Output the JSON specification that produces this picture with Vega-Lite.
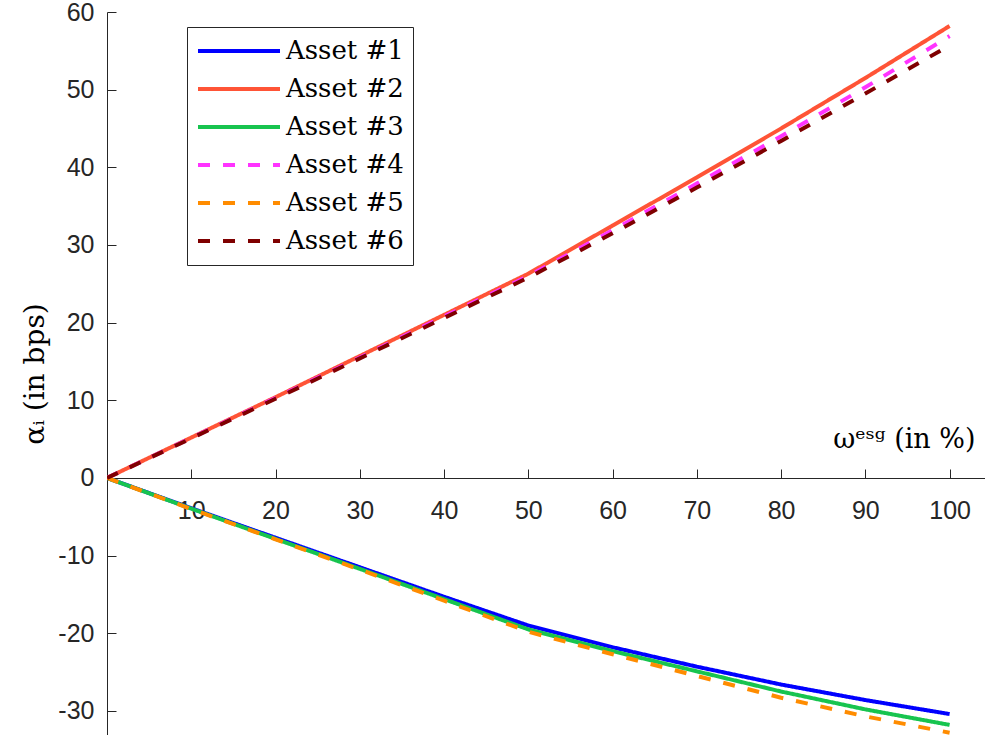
{
  "$schema": "https://vega.github.io/schema/vega-lite/v6.json",
  "width": 878,
  "height": 723,
  "autosize": {"type": "none"},
  "padding": {"left": 107, "top": 12, "right": 0, "bottom": 0},
  "background": "white",
  "config": {
    "view": {"stroke": null},
    "axis": {
      "domainColor": "#262626",
      "tickColor": "#262626",
      "labelColor": "#262626",
      "labelFont": "Liberation Sans",
      "labelFontSize": 25,
      "grid": false,
      "tickSize": -9,
      "domainWidth": 1,
      "tickWidth": 1
    }
  },
  "data": {
    "values": [
      {"x": 0, "alpha": 0, "asset": "Asset #1"},
      {"x": 10, "alpha": -3.9, "asset": "Asset #1"},
      {"x": 20, "alpha": -7.7, "asset": "Asset #1"},
      {"x": 30, "alpha": -11.5, "asset": "Asset #1"},
      {"x": 40, "alpha": -15.3, "asset": "Asset #1"},
      {"x": 50, "alpha": -19.0, "asset": "Asset #1"},
      {"x": 60, "alpha": -21.8, "asset": "Asset #1"},
      {"x": 70, "alpha": -24.3, "asset": "Asset #1"},
      {"x": 80, "alpha": -26.6, "asset": "Asset #1"},
      {"x": 90, "alpha": -28.6, "asset": "Asset #1"},
      {"x": 100, "alpha": -30.4, "asset": "Asset #1"},
      {"x": 0, "alpha": 0, "asset": "Asset #2"},
      {"x": 10, "alpha": 5.2, "asset": "Asset #2"},
      {"x": 20, "alpha": 10.4, "asset": "Asset #2"},
      {"x": 30, "alpha": 15.7, "asset": "Asset #2"},
      {"x": 40, "alpha": 21.0, "asset": "Asset #2"},
      {"x": 50, "alpha": 26.3, "asset": "Asset #2"},
      {"x": 60, "alpha": 32.5, "asset": "Asset #2"},
      {"x": 70, "alpha": 38.7, "asset": "Asset #2"},
      {"x": 80, "alpha": 45.0, "asset": "Asset #2"},
      {"x": 90, "alpha": 51.5, "asset": "Asset #2"},
      {"x": 100, "alpha": 58.2, "asset": "Asset #2"},
      {"x": 0, "alpha": 0, "asset": "Asset #3"},
      {"x": 10, "alpha": -3.95, "asset": "Asset #3"},
      {"x": 20, "alpha": -7.85, "asset": "Asset #3"},
      {"x": 30, "alpha": -11.7, "asset": "Asset #3"},
      {"x": 40, "alpha": -15.6, "asset": "Asset #3"},
      {"x": 50, "alpha": -19.5, "asset": "Asset #3"},
      {"x": 60, "alpha": -22.3, "asset": "Asset #3"},
      {"x": 70, "alpha": -24.9, "asset": "Asset #3"},
      {"x": 80, "alpha": -27.5, "asset": "Asset #3"},
      {"x": 90, "alpha": -29.8, "asset": "Asset #3"},
      {"x": 100, "alpha": -31.8, "asset": "Asset #3"},
      {"x": 0, "alpha": 0, "asset": "Asset #4"},
      {"x": 10, "alpha": 5.15, "asset": "Asset #4"},
      {"x": 20, "alpha": 10.3, "asset": "Asset #4"},
      {"x": 30, "alpha": 15.5, "asset": "Asset #4"},
      {"x": 40, "alpha": 20.8, "asset": "Asset #4"},
      {"x": 50, "alpha": 26.0, "asset": "Asset #4"},
      {"x": 60, "alpha": 31.9, "asset": "Asset #4"},
      {"x": 70, "alpha": 37.9, "asset": "Asset #4"},
      {"x": 80, "alpha": 44.0, "asset": "Asset #4"},
      {"x": 90, "alpha": 50.3, "asset": "Asset #4"},
      {"x": 100, "alpha": 56.9, "asset": "Asset #4"},
      {"x": 0, "alpha": 0, "asset": "Asset #5"},
      {"x": 10, "alpha": -4.0, "asset": "Asset #5"},
      {"x": 20, "alpha": -7.9, "asset": "Asset #5"},
      {"x": 30, "alpha": -11.8, "asset": "Asset #5"},
      {"x": 40, "alpha": -15.8, "asset": "Asset #5"},
      {"x": 50, "alpha": -19.8, "asset": "Asset #5"},
      {"x": 60, "alpha": -22.7, "asset": "Asset #5"},
      {"x": 70, "alpha": -25.5, "asset": "Asset #5"},
      {"x": 80, "alpha": -28.3, "asset": "Asset #5"},
      {"x": 90, "alpha": -30.7, "asset": "Asset #5"},
      {"x": 100, "alpha": -32.8, "asset": "Asset #5"},
      {"x": 0, "alpha": 0, "asset": "Asset #6"},
      {"x": 10, "alpha": 5.1, "asset": "Asset #6"},
      {"x": 20, "alpha": 10.2, "asset": "Asset #6"},
      {"x": 30, "alpha": 15.4, "asset": "Asset #6"},
      {"x": 40, "alpha": 20.6, "asset": "Asset #6"},
      {"x": 50, "alpha": 25.8, "asset": "Asset #6"},
      {"x": 60, "alpha": 31.5, "asset": "Asset #6"},
      {"x": 70, "alpha": 37.4, "asset": "Asset #6"},
      {"x": 80, "alpha": 43.4, "asset": "Asset #6"},
      {"x": 90, "alpha": 49.5, "asset": "Asset #6"},
      {"x": 100, "alpha": 55.7, "asset": "Asset #6"}
    ]
  },
  "mark": {"type": "line", "strokeWidth": 4, "strokeCap": "butt", "clip": true},
  "encoding": {
    "x": {
      "field": "x",
      "type": "quantitative",
      "scale": {"domain": [0, 104.2], "nice": false, "zero": false},
      "axis": {
        "values": [10, 20, 30, 40, 50, 60, 70, 80, 90, 100],
        "offset": -257,
        "labelPadding": 29,
        "title": "ωᵉˢᵍ (in %)",
        "titleFont": "DejaVu Serif",
        "titleFontSize": 27,
        "titleFontWeight": "normal",
        "titleColor": "#000000",
        "titleAlign": "right",
        "titleAnchor": "start",
        "titleX": 868,
        "titleY": -31,
        "titleBaseline": "alphabetic"
      }
    },
    "y": {
      "field": "alpha",
      "type": "quantitative",
      "scale": {"domain": [-33.1, 60], "nice": false, "zero": false},
      "axis": {
        "values": [-30, -20, -10, 0, 10, 20, 30, 40, 50, 60],
        "labelExpr": "datum.value < 0 ? '-' + abs(datum.value) : '' + datum.value",
        "labelPadding": 22,
        "title": "αᵢ (in bps)",
        "titleFont": "DejaVu Serif",
        "titleFontSize": 28,
        "titleFontWeight": "normal",
        "titleColor": "#000000",
        "titleX": -72,
        "titleBaseline": "middle"
      }
    },
    "color": {
      "field": "asset",
      "type": "nominal",
      "scale": {
        "domain": ["Asset #1", "Asset #2", "Asset #3", "Asset #4", "Asset #5", "Asset #6"],
        "range": ["#0000FF", "#FF5436", "#17C44F", "#FF33FF", "#FF8C00", "#7F0000"]
      },
      "legend": {
        "title": null,
        "orient": "none",
        "legendX": 80,
        "legendY": 15,
        "padding": 9,
        "fillColor": "white",
        "strokeColor": "#262626",
        "symbolType": "stroke",
        "symbolSize": 6724,
        "symbolStrokeWidth": 4,
        "clipHeight": 30,
        "rowPadding": 8,
        "labelOffset": 4,
        "symbolOffset": 0,
        "labelFont": "DejaVu Serif",
        "labelFontSize": 26,
        "labelColor": "#000000",
        "labelLimit": 300
      }
    },
    "strokeDash": {
      "field": "asset",
      "type": "nominal",
      "scale": {
        "domain": ["Asset #1", "Asset #2", "Asset #3", "Asset #4", "Asset #5", "Asset #6"],
        "range": [[1, 0], [1, 0], [1, 0], [12, 13], [12, 13], [12, 13]]
      }
    }
  }
}
